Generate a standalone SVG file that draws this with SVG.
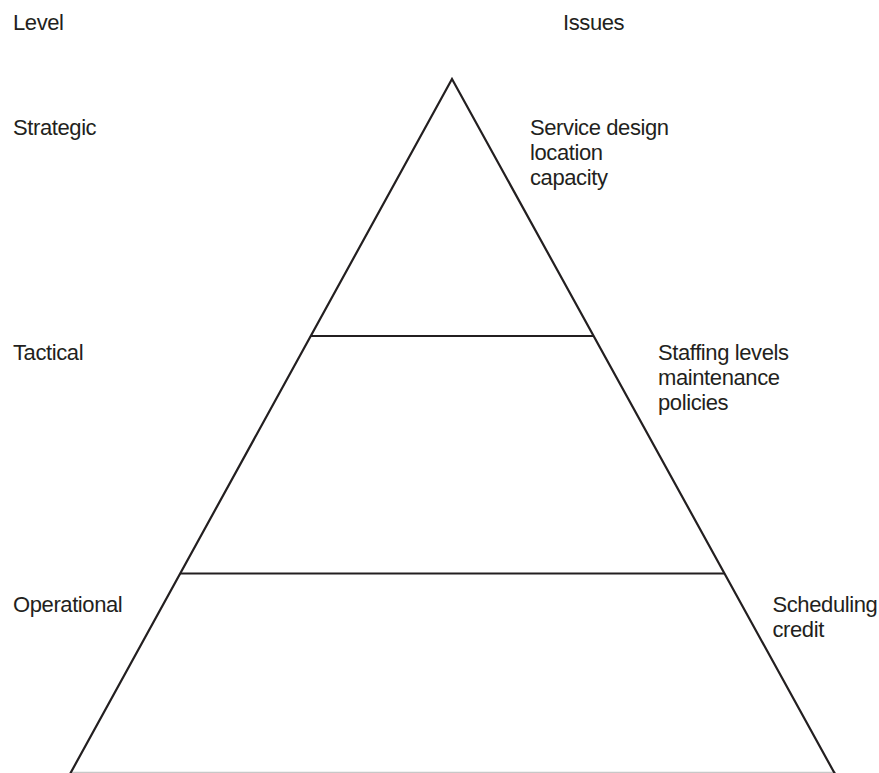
<svg xmlns="http://www.w3.org/2000/svg" width="879" height="773" viewBox="0 0 879 773">
  <style>
    .lbl { font-family: "Liberation Sans", Arial, Helvetica, sans-serif; font-size: 22px; letter-spacing: -0.4px; fill: #231f20; }
    .edge { stroke: #231f20; stroke-width: 2.2; fill: none; stroke-linejoin: miter; }
    .base { stroke: #c8c8c8; stroke-width: 1.2; }
  </style>
  <rect width="879" height="773" fill="#ffffff"/>

  <!-- column headings -->
  <g id="headings">
    <text class="lbl" x="13" y="30">Level</text>
    <text class="lbl" x="563" y="30">Issues</text>
  </g>

  <!-- pyramid outline and tier dividers -->
  <g id="connectors">
    <line class="base" x1="70" y1="772.4" x2="836" y2="772.4"/>
    <polyline class="edge" points="70,774 452,79 835,774"/>
    <line class="edge" x1="310.5" y1="336" x2="593.8" y2="336"/>
    <line class="edge" x1="180.1" y1="573.5" x2="724.5" y2="573.5"/>
  </g>

  <g id="strategic">
    <text class="lbl" x="13" y="135">Strategic</text>
    <text class="lbl" x="530" y="135">Service design</text>
    <text class="lbl" x="530" y="160">location</text>
    <text class="lbl" x="530" y="185">capacity</text>
  </g>

  <g id="tactical">
    <text class="lbl" x="13" y="359.5">Tactical</text>
    <text class="lbl" x="658" y="359.5">Staffing levels</text>
    <text class="lbl" x="658" y="384.5">maintenance</text>
    <text class="lbl" x="658" y="409.5">policies</text>
  </g>

  <g id="operational">
    <text class="lbl" x="13" y="611.5">Operational</text>
    <text class="lbl" x="772.5" y="611.5">Scheduling</text>
    <text class="lbl" x="772.5" y="636.5">credit</text>
  </g>
</svg>
